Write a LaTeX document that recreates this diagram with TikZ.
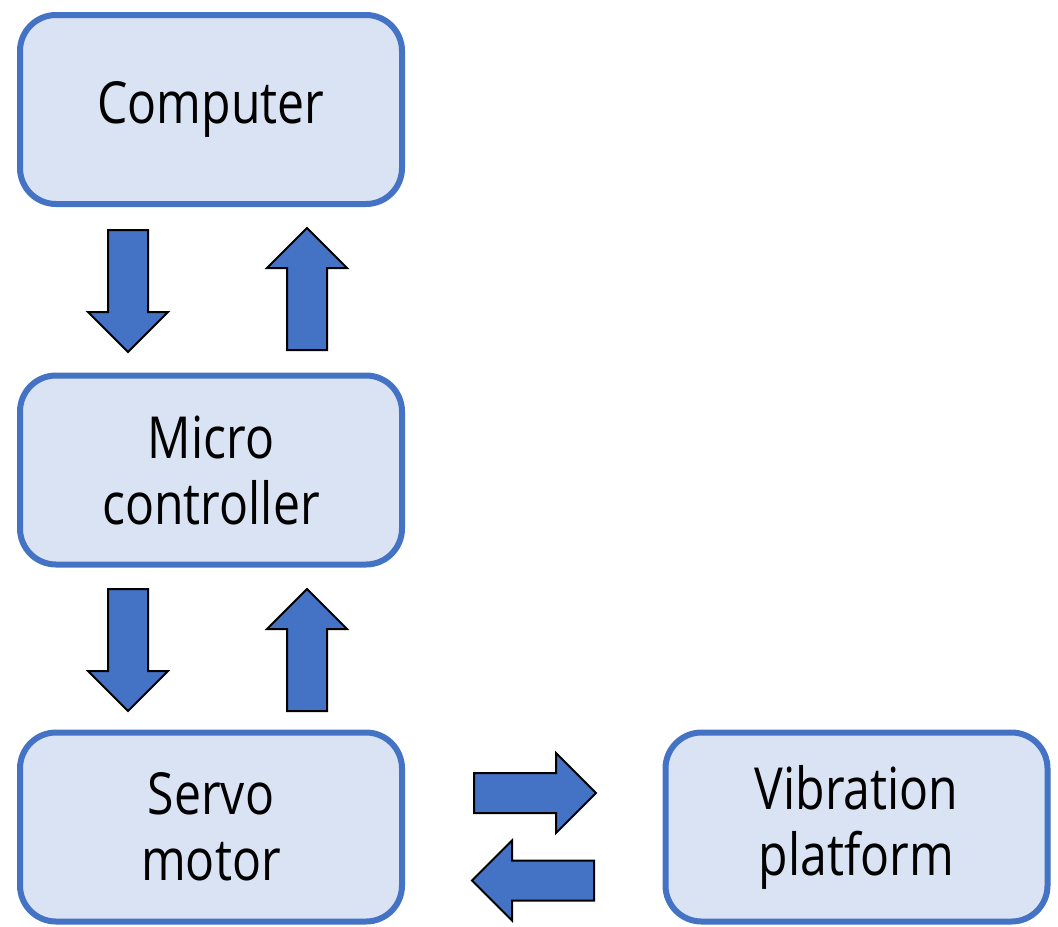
\documentclass[tikz,border=0pt]{standalone}
\usepackage{fontspec}
\setmainfont[FakeStretch=0.83]{Open Sans}
\usetikzlibrary{shapes.arrows}
\definecolor{boxline}{HTML}{4472C4}
\definecolor{boxfill}{HTML}{DAE3F3}
\definecolor{arrowfill}{HTML}{4472C4}

\begin{document}
\begin{tikzpicture}
		[x=0.5pt, y=-0.5pt,
		block/.style ={rectangle, draw=boxline, line width=3pt, fill=boxfill, rounded corners=18pt, minimum width=191pt, minimum height=94.5pt, align=center, font=\fontsize{29}{33}\selectfont},
		fat/.style ={single arrow, draw=black, line width=1pt, fill=arrowfill, inner xsep=0pt, inner ysep=9.5pt, minimum height=61pt, minimum width=39pt, single arrow head extend=10pt, anchor=tail},
		]
		\useasboundingbox (0,0) rectangle (1058,926);

		\draw (211,109.5) node[block] (C1) {Computer};
		\draw (211,470) node[block] (C2) {Micro\\controller};
		\draw (211,827) node[block] (C3) {Servo\\motor};
		\draw (856.5,827) node[block] (C4) {Vibration\\platform};

		% block arrows between the boxes
		\draw (128,229) node[fat, rotate=-90] (A1) {};
		\draw (307,351) node[fat, rotate=90] (A2) {};
		\draw (128,588) node[fat, rotate=-90] (A3) {};
		\draw (307,712) node[fat, rotate=90] (A4) {};
		\draw (473,793) node[fat] (A5) {};
		\draw (595,880.5) node[fat, rotate=180] (A6) {};

	\end{tikzpicture}
\end{document}
